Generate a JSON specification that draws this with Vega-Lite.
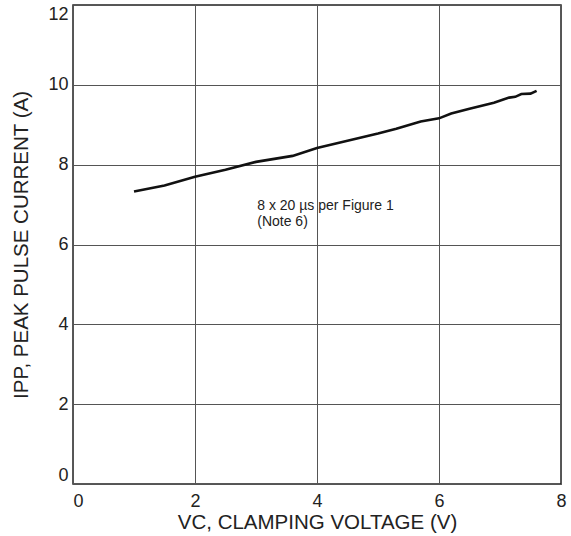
{
  "$schema": "https://vega.github.io/schema/vega-lite/v6.json",
  "width": 488,
  "height": 479,
  "padding": {"left": 73, "top": 5, "right": 10, "bottom": 52},
  "autosize": {"type": "none"},
  "background": "white",
  "config": {
    "font": "Liberation Sans",
    "view": {"stroke": "#222222", "strokeWidth": 1.5},
    "axis": {
      "grid": true, "gridColor": "#555555", "gridWidth": 1, "gridOpacity": 1,
      "domain": false, "ticks": false,
      "labelFont": "Liberation Sans", "labelFontSize": 18, "labelColor": "#222222",
      "titleFont": "Liberation Sans", "titleFontSize": 20.5, "titleFontWeight": "normal", "titleColor": "#222222"
    }
  },
  "datasets": {
    "curve": [
      {"v": 1.0, "i": 7.33}, {"v": 1.5, "i": 7.48}, {"v": 2.0, "i": 7.7},
      {"v": 2.5, "i": 7.87}, {"v": 3.0, "i": 8.07}, {"v": 3.6, "i": 8.22},
      {"v": 4.0, "i": 8.42}, {"v": 4.5, "i": 8.6}, {"v": 5.0, "i": 8.78},
      {"v": 5.3, "i": 8.9}, {"v": 5.7, "i": 9.08}, {"v": 6.0, "i": 9.16},
      {"v": 6.2, "i": 9.28}, {"v": 6.5, "i": 9.4}, {"v": 6.9, "i": 9.55},
      {"v": 7.15, "i": 9.68}, {"v": 7.25, "i": 9.7}, {"v": 7.35, "i": 9.77},
      {"v": 7.5, "i": 9.78}, {"v": 7.6, "i": 9.85}
    ],
    "notes": [
      {"v": 3.02, "i": 6.96, "label": "8 x 20 µs per Figure 1"},
      {"v": 3.02, "i": 6.56, "label": "(Note 6)"}
    ]
  },
  "layer": [
    {
      "data": {"name": "curve"},
      "mark": {"type": "line", "color": "#111111", "strokeWidth": 2.6},
      "encoding": {
        "x": {"field": "v", "type": "quantitative",
              "scale": {"domain": [0, 8], "nice": false, "zero": false},
              "axis": {"values": [0, 2, 4, 6, 8], "format": "d", "title": "VC, CLAMPING VOLTAGE (V)", "labelPadding": 8, "titlePadding": 2,
                       "labelAlign": {"condition": {"test": "datum.value == 0", "value": "left"}, "value": "center"}}},
        "y": {"field": "i", "type": "quantitative",
              "scale": {"domain": [0, 12], "nice": false, "zero": false},
              "axis": {"values": [0, 2, 4, 6, 8, 10, 12], "format": "d", "title": "IPP, PEAK PULSE CURRENT (A)", "labelPadding": 5, "titlePadding": 16, "labelFlush": true}}
      }
    },
    {
      "data": {"name": "notes"},
      "mark": {"type": "text", "align": "left", "baseline": "middle", "fontSize": 14, "font": "Liberation Sans", "color": "#222222"},
      "encoding": {
        "x": {"field": "v", "type": "quantitative"},
        "y": {"field": "i", "type": "quantitative"},
        "text": {"field": "label"}
      }
    }
  ]
}
